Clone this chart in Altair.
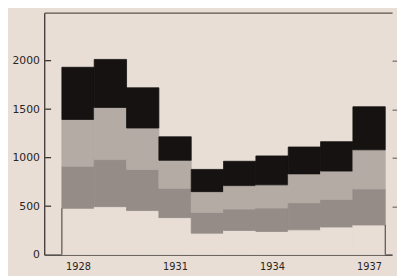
import altair as alt
import pandas as pd

years = list(range(1928, 1938))
# amounts per layer (bottom to top)
base = [478, 495, 455, 382, 222, 250, 239, 256, 285, 306]
cross = [434, 485, 424, 302, 214, 220, 241, 279, 283, 371]
diag = [482, 538, 427, 289, 214, 242, 240, 298, 294, 404]
black = [538, 495, 414, 242, 229, 251, 298, 277, 303, 444]

layer_names = ["base", "cross", "diag", "black"]
layer_colors = ["#e8ded5", "#958c87", "#b4aba5", "#151211"]
y_ticks = [0, 500, 1000, 1500, 2000]
x_labels = [1928, 1931, 1934, 1937]

rows = []
for i, yr in enumerate(years):
    cum = 0
    for name, vals in zip(layer_names, [base, cross, diag, black]):
        rows.append({"year": yr, "x0": yr - 0.5, "x1": yr + 0.5, "layer": name,
                     "y0": cum, "y1": cum + vals[i]})
        cum += vals[i]
df = pd.DataFrame(rows)

edges = pd.DataFrame({"x": [years[0] - 0.5, years[-1] + 0.5], "y0": [0, 0],
                      "y1": [base[0], base[-1]]})
ticks = pd.DataFrame({"v": y_ticks[1:]})

ink = "#2a2422"
xscale = alt.Scale(domain=[1926.955, 1937.712], nice=False, zero=False)
yscale = alt.Scale(domain=[0, 2495], nice=False)
cscale = alt.Scale(domain=layer_names, range=layer_colors)

bars = alt.Chart(df).mark_rect(strokeWidth=0.8).encode(
    x=alt.X("x0:Q", scale=xscale,
            axis=alt.Axis(orient="bottom", values=x_labels, format="d", title=None,
                          ticks=False, labelFontSize=10, labelPadding=7,
                          labelColor=ink, domainColor=ink, domainWidth=1.2)),
    x2="x1:Q",
    y=alt.Y("y0:Q", scale=yscale,
            axis=alt.Axis(orient="left", values=y_ticks, format="d", title=None,
                          ticks=False, labelFontSize=11, labelPadding=5, labelColor=ink,
                          domainColor=ink, domainWidth=1.2)),
    y2="y1:Q",
    color=alt.Color("layer:N", scale=cscale, legend=None),
    stroke=alt.Stroke("layer:N", scale=cscale, legend=None),
)

edge_rules = alt.Chart(edges).mark_rule(color="#3a3330", strokeWidth=1).encode(
    x=alt.X("x:Q", scale=xscale,
            axis=alt.Axis(orient="top", labels=False, ticks=False, title=None,
                          domainColor="#5a524e", domainWidth=1.2)),
    y=alt.Y("y0:Q", scale=yscale, axis=None),
    y2="y1:Q",
)

inner_ticks = alt.Chart(ticks).mark_rule(color=ink, strokeWidth=1.2).encode(
    y=alt.Y("v:Q", scale=yscale,
            axis=alt.Axis(orient="right", values=y_ticks[1:], labels=False, domain=False,
                          title=None, ticks=True, tickSize=5, tickColor="#5a524e")),
    x=alt.value(1),
    x2=alt.value(7),
)

chart = alt.layer(bars, edge_rules, inner_ticks).properties(
    width=355, height=247,
    autosize=alt.AutoSizeParams(type="none"),
    padding={"left": 37, "top": 2, "right": 5, "bottom": 19},
    background="#e8ded5",
).configure_view(stroke=None).configure_axis(
    grid=False, labelFont="DejaVu Sans"
)

chart.save("out.html", embed_options={"renderer": "svg", "actions": False})
